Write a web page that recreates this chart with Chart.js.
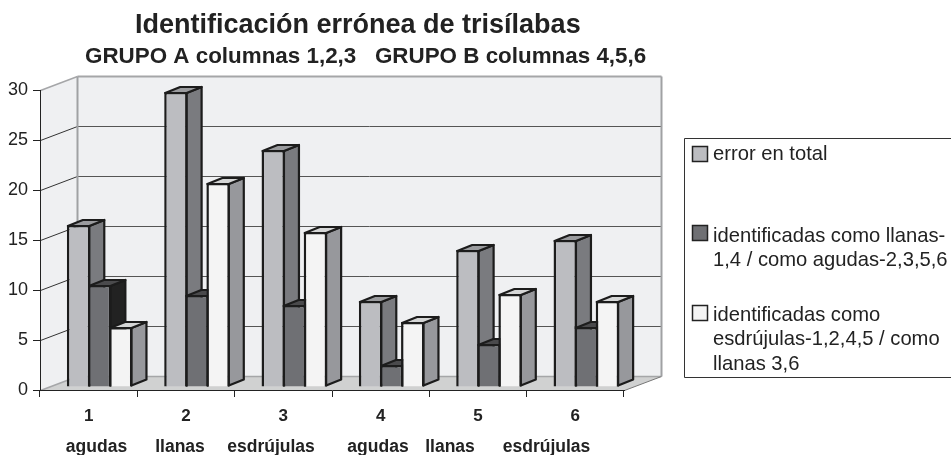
<!DOCTYPE html>
<html>
<head>
<meta charset="utf-8">
<script src="https://cdn.jsdelivr.net/npm/chart.js@4"></script>
<style>
  html, body { margin: 0; background: #fff; overflow: hidden; }
</style>
</head>
<body>
<canvas id="chart" width="951" height="455"></canvas>
<script>
const categories = ['1', '2', '3', '4', '5', '6'];
const syllableLabels = ['agudas', 'llanas', 'esdrújulas', 'agudas', 'llanas', 'esdrújulas'];
const errorTotal = [16.2, 29.5, 23.7, 8.6, 13.7, 14.7];
const comoLlanas = [10.2, 9.2, 8.2, 2.2, 4.3, 6.0];
const comoEsdrujulas = [6.0, 20.4, 15.5, 6.5, 9.3, 8.6];
const yTicks = [0, 5, 10, 15, 20, 25, 30];

const titleText = 'Identificación errónea de trisílabas';
const subtitleText = 'GRUPO A columnas 1,2,3   GRUPO B columnas 4,5,6';
const legendEntries = [
  ['error en total'],
  ['identificadas como llanas-', '1,4 / como agudas-2,3,5,6'],
  ['identificadas como', 'esdrújulas-1,2,4,5 / como', 'llanas 3,6']
];

const ink = '#222';
const barInk = '#1c1c1c';
const fontFamily = '"Liberation Sans", Arial, sans-serif';

// fake 3d: wall depth, bar offset off the front plane, bar depth
const wallDx = 37, wallDy = 14;
const barDx = 11, barDy = 3;
const depthX = 15, depthY = 6;

function poly(ctx, pts, fill, stroke, lw) {
  ctx.beginPath();
  pts.forEach((p, i) => i ? ctx.lineTo(p[0], p[1]) : ctx.moveTo(p[0], p[1]));
  ctx.closePath();
  if (fill) { ctx.fillStyle = fill; ctx.fill(); }
  if (stroke) { ctx.strokeStyle = stroke; ctx.lineWidth = lw; ctx.lineJoin = 'round'; ctx.stroke(); }
}

function line(ctx, x1, y1, x2, y2, color, lw) {
  ctx.beginPath();
  ctx.moveTo(x1, y1);
  ctx.lineTo(x2, y2);
  ctx.strokeStyle = color;
  ctx.lineWidth = lw;
  ctx.stroke();
}

function text(ctx, str, x, y, font, align) {
  ctx.font = font;
  ctx.fillStyle = ink;
  ctx.textAlign = align || 'left';
  ctx.textBaseline = 'alphabetic';
  ctx.fillText(str, x, y);
}

const walls = {
  id: 'walls',
  beforeDraw(chart) {
    const { ctx, chartArea: a, scales } = chart;
    const l = a.left + 0.5, r = a.right + 0.5, b = a.bottom + 0.5, t = a.top + 0.5;
    ctx.save();
    poly(ctx, [[l, t], [l + wallDx, t - wallDy], [r + wallDx, t - wallDy], [r + wallDx, b - wallDy], [l + wallDx, b - wallDy], [l, b]], '#eff0f2');
    poly(ctx, [[l, b], [l + wallDx, b - wallDy], [r + wallDx, b - wallDy], [r, b]], '#d0d1d1');
    yTicks.forEach(v => {
      const y = scales.y.getPixelForValue(v) + 0.5;
      const edge = v === 0 || v === 30;
      if (v !== 0) line(ctx, l + wallDx, y - wallDy, r + wallDx, y - wallDy, edge ? '#a5a6a8' : '#555', edge ? 2 : 1);
      line(ctx, l, y, l + wallDx, y - wallDy, edge ? '#a5a6a8' : '#333', edge ? 1.5 : 1);
    });
    line(ctx, l + wallDx, b - wallDy, r + wallDx, b - wallDy, '#a5a6a8', 1.5);
    line(ctx, r, b, r + wallDx, b - wallDy, '#777', 1);
    line(ctx, l + wallDx, t - wallDy, l + wallDx, b - wallDy, '#a0a1a3', 2);
    line(ctx, r + wallDx, t - wallDy, r + wallDx, b - wallDy, '#a0a1a3', 2);
    ctx.restore();
  }
};

// chart.js paints datasets last to first, the overlaps here need first to last
const bars3d = {
  id: 'bars3d',
  beforeDatasetsDraw(chart) {
    const { ctx } = chart;
    ctx.save();
    ctx.translate(barDx, -barDy);
    chart.data.datasets.forEach((ds, i) => {
      const meta = chart.getDatasetMeta(i);
      meta.data.forEach(el => {
        const xl = el.x - el.width / 2 + 1, xr = el.x + el.width / 2 - 1;
        const yt = el.y + 1, yb = el.base - 1;
        poly(ctx, [[xr, yt], [xr + depthX, yt - depthY], [xr + depthX, yb - depthY], [xr, yb]], ds.sideColor, barInk, 2.2);
        poly(ctx, [[xl, yt], [xl + depthX, yt - depthY], [xr + depthX, yt - depthY], [xr, yt]], ds.topColor, barInk, 2.2);
      });
      meta.controller.draw();
    });
    ctx.restore();
    return false;
  }
};

const textLayer = {
  id: 'textLayer',
  afterDraw(chart) {
    const { ctx } = chart;
    ctx.save();
    text(ctx, titleText, 135, 33, 'bold 27px ' + fontFamily);
    text(ctx, subtitleText, 85, 63, 'bold 22.4px ' + fontFamily);
    const rowX = [96.5, 180, 271, 378, 450, 546.5];
    syllableLabels.forEach((s, i) => text(ctx, s, rowX[i], 452, 'bold 17.5px ' + fontFamily, 'center'));

    // boxed legend, right side runs off the page like the original
    line(ctx, 951, 138.5, 684.5, 138.5, '#333', 1);
    line(ctx, 684.5, 138.5, 684.5, 377.5, '#333', 1);
    line(ctx, 684.5, 377.5, 951, 377.5, '#333', 1);
    const swatchY = [146.5, 225.5, 305.5];
    const textY = [[160], [242, 266], [321, 345, 370]];
    chart.data.datasets.forEach((ds, i) => {
      ctx.fillStyle = ds.backgroundColor;
      ctx.fillRect(692.5, swatchY[i], 15, 15);
      ctx.strokeStyle = ink;
      ctx.lineWidth = 1.5;
      ctx.strokeRect(692.5, swatchY[i], 15, 15);
      legendEntries[i].forEach((t, j) => text(ctx, t, 713, textY[i][j], '20.2px ' + fontFamily));
    });
    ctx.restore();
  }
};

new Chart(document.getElementById('chart'), {
  type: 'bar',
  data: {
    labels: categories,
    datasets: [
      { label: legendEntries[0].join(' '), data: errorTotal, backgroundColor: '#bcbdc1', sideColor: '#7a7b7f', topColor: '#9a9b9e' },
      { label: legendEntries[1].join(' '), data: comoLlanas, backgroundColor: '#6f7074', sideColor: '#222222', topColor: '#4a4a4c' },
      { label: legendEntries[2].join(' '), data: comoEsdrujulas, backgroundColor: '#f4f4f4', sideColor: '#97989c', topColor: '#d5d6d6' }
    ]
  },
  options: {
    responsive: false,
    animation: false,
    layout: { padding: { top: 90, right: 327, bottom: 0, left: 0 } },
    datasets: {
      bar: { categoryPercentage: 0.65, barPercentage: 1.11, borderWidth: 2.5, borderColor: barInk }
    },
    plugins: {
      legend: { display: false },
      tooltip: { enabled: false }
    },
    scales: {
      x: {
        afterFit: s => { s.height = 65; },
        grid: { drawOnChartArea: false, tickLength: 7, color: ink },
        border: { color: ink },
        ticks: { color: ink, padding: 9, maxRotation: 0, font: { family: fontFamily, size: 17, weight: 'bold' } }
      },
      y: {
        min: 0,
        max: 30,
        afterFit: s => { s.width = 40; },
        afterBuildTicks: s => { s.ticks = yTicks.map(v => ({ value: v })); },
        grid: { drawOnChartArea: false, tickLength: 7, color: ink },
        border: { color: ink },
        ticks: { color: ink, padding: 5, font: { family: fontFamily, size: 18 } }
      }
    }
  },
  plugins: [walls, bars3d, textLayer]
});
</script>
</body>
</html>
